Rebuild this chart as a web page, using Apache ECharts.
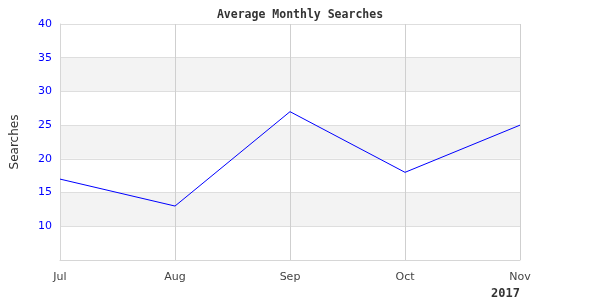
<!DOCTYPE html>
<html>
<head>
<meta charset="utf-8">
<script src="https://cdn.jsdelivr.net/npm/echarts@6/dist/echarts.min.js"></script>
<style>html,body{margin:0;padding:0;background:#fff}#c{width:600px;height:300px}</style>
</head>
<body>
<div id="c"></div>
<script>
const categories = ['Jul', 'Aug', 'Sep', 'Oct', 'Nov'];
const searches = [17, 13, 27, 18, 25];
const titleText = 'Average Monthly Searches';
const yName = 'Searches';
const yearLabel = '2017';

const chart = echarts.init(document.getElementById('c'));
chart.setOption({
  animation: false,
  backgroundColor: '#fff',
  title: {
    text: titleText,
    left: 'center',
    top: 4,
    textStyle: { fontFamily: 'DejaVu Sans Mono', fontWeight: 'bold', fontSize: 11.5, color: '#333' }
  },
  grid: { left: 60, right: 80, top: 24, bottom: 40 },
  xAxis: {
    type: 'category',
    data: categories,
    boundaryGap: false,
    axisLine: { lineStyle: { color: '#d6d6d6' } },
    axisTick: { show: false },
    axisLabel: { margin: 12, fontFamily: 'DejaVu Sans', fontSize: 11, color: '#444' },
    splitLine: { show: true, lineStyle: { color: '#cfcfcf' } }
  },
  yAxis: {
    type: 'value',
    min: 5, max: 40, interval: 5,
    name: yName,
    nameLocation: 'middle',
    nameRotate: 90,
    nameGap: 39,
    nameTextStyle: { fontFamily: 'DejaVu Sans', fontSize: 12, color: '#333' },
    axisLine: { show: true, lineStyle: { color: '#d6d6d6' } },
    axisTick: { show: false },
    axisLabel: { showMinLabel: false, margin: 8, fontFamily: 'DejaVu Sans', fontSize: 11, color: '#0000ff' },
    splitLine: { show: true, lineStyle: { color: '#dedede' } },
    splitArea: { show: true, areaStyle: { color: ['#ffffff', '#f3f3f3'] } }
  },
  graphic: [{
    type: 'text',
    right: 80,
    top: 288,
    style: { text: yearLabel, fontFamily: 'DejaVu Sans Mono', fontWeight: 'bold', fontSize: 12, fill: '#333' }
  }],
  series: [{
    type: 'line',
    data: searches,
    symbol: 'none',
    lineStyle: { color: '#0000ff', width: 1 }
  }]
});
</script>
</body>
</html>
